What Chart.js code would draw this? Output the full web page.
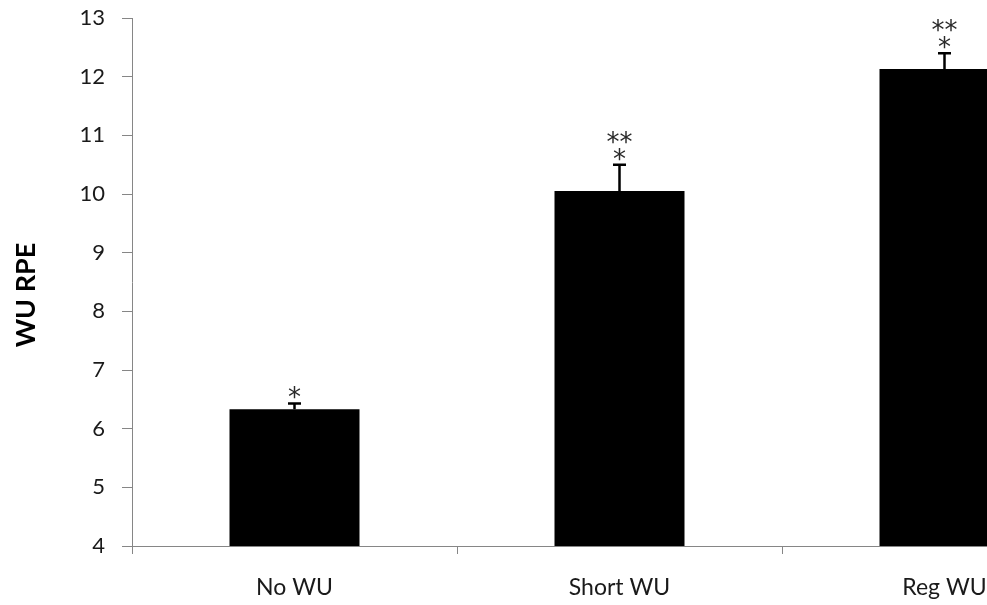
<!DOCTYPE html>
<html>
<head>
<meta charset="utf-8">
<script src="https://cdn.jsdelivr.net/npm/chart.js@4"></script>
<style>
  html, body { margin: 0; padding: 0; background: #fff; overflow: hidden; width: 987px; height: 605px; }
  #wrap { width: 987px; height: 605px; overflow: hidden; position: relative; }
  canvas { display: block; }
</style>
</head>
<body>
<div id="wrap"><canvas id="c" width="1120" height="605"></canvas></div>
<script>
const categories = ["No WU", "Short WU", "Reg WU"];
const rpeMeans = [6.33, 10.05, 12.13];
const rpeErrors = [0.10, 0.45, 0.27];
const significance = [["*"], ["**", "*"], ["**", "*"]];
const yTicks = [4, 5, 6, 7, 8, 9, 10, 11, 12, 13];
const yTitle = 'WU RPE';

const errorBarPlugin = {
  id: 'errorBars',
  afterDatasetsDraw(chart) {
    const ctx = chart.ctx;
    const meta = chart.getDatasetMeta(0);
    const y = chart.scales.y;
    ctx.save();
    meta.data.forEach((bar, i) => {
      const x = bar.x;
      const yTop = y.getPixelForValue(rpeMeans[i] + rpeErrors[i]);
      const yBase = y.getPixelForValue(rpeMeans[i]);
      ctx.strokeStyle = '#000';
      ctx.lineWidth = 2.5;
      ctx.beginPath();
      ctx.moveTo(x, yBase);
      ctx.lineTo(x, yTop);
      ctx.moveTo(x - 6.5, yTop);
      ctx.lineTo(x + 6.5, yTop);
      ctx.stroke();
      ctx.fillStyle = '#2a2a2a';
      ctx.font = '26px "DejaVu Sans"';
      ctx.textAlign = 'center';
      ctx.textBaseline = 'alphabetic';
      const marks = significance[i];
      const n = marks.length;
      marks.forEach((m, k) => {
        const fromBottom = n - 1 - k;
        const cy = yTop - 11 - fromBottom * 17;
        ctx.fillText(m, x, cy + 14);
      });
    });
    ctx.restore();
  }
};

const yTitlePlugin = {
  id: 'yTitle',
  afterDraw(chart) {
    const ctx = chart.ctx;
    ctx.save();
    ctx.translate(26, 295);
    ctx.rotate(-Math.PI / 2);
    ctx.fillStyle = '#000';
    ctx.font = 'bold 27px Lato';
    ctx.textAlign = 'center';
    ctx.textBaseline = 'middle';
    ctx.fillText(yTitle, 0, 0);
    ctx.restore();
  }
};

new Chart(document.getElementById('c'), {
  type: 'bar',
  data: {
    labels: categories,
    datasets: [{
      data: rpeMeans,
      backgroundColor: '#000',
      borderColor: '#000',
      borderWidth: 0,
      barPercentage: 0.4,
      categoryPercentage: 1.0
    }]
  },
  options: {
    responsive: false,
    animation: false,
    devicePixelRatio: 1,
    layout: { padding: { top: 18, right: 13, left: 0, bottom: 0 } },
    plugins: { legend: { display: false }, tooltip: { enabled: false } },
    scales: {
      x: {
        type: 'category',
        offset: true,
        grid: { display: true, drawOnChartArea: false, drawTicks: true, tickLength: 8, offset: true, color: '#868686', lineWidth: 1 },
        border: { display: true, color: '#868686', width: 1 },
        ticks: { color: '#1a1a1a', font: { family: 'Lato', size: 23 }, padding: 20, maxRotation: 0 },
        afterFit(scale) { scale.height = 59; }
      },
      y: {
        min: 4, max: 13,
        afterBuildTicks(scale) { scale.ticks = yTicks.map(v => ({ value: v })); },
        grid: { display: true, drawOnChartArea: false, drawTicks: true, tickLength: 10, color: '#868686', lineWidth: 1 },
        border: { display: true, color: '#868686', width: 1 },
        ticks: { color: '#1a1a1a', font: { family: 'Lato', size: 22 }, padding: 17 },
        title: { display: false, text: yTitle },
        afterFit(scale) { scale.width = 132; scale.paddingTop = 0; scale.paddingBottom = 0; }
      }
    }
  },
  plugins: [errorBarPlugin, yTitlePlugin]
});
</script>
</body>
</html>
